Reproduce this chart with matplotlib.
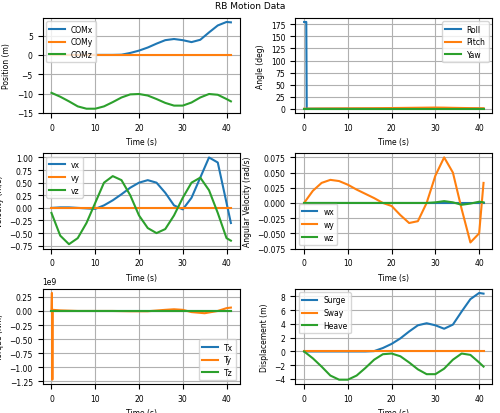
import matplotlib
matplotlib.use("Agg")
import matplotlib.pyplot as plt
import numpy as np

plt.rcParams.update({"font.size": 5.5})

t = [0, 2, 4, 6, 8, 10, 12, 14, 16, 18, 20, 22, 24, 26, 28, 30, 32, 34, 36, 38, 40, 41]
comx = [0, 0, 0, 0, 0, 0, 0, 0, 0.05, 0.5, 1.1, 1.9, 2.9, 3.8, 4.1, 3.8, 3.3, 3.9, 5.8, 7.6, 8.5, 8.4]
comy = [0] * len(t)
comz = [-9.8, -10.8, -12.0, -13.3, -13.9, -13.9, -13.3, -12.2, -11.0, -10.2, -10.1, -10.5, -11.4, -12.4, -13.1, -13.1, -12.3, -11.0, -10.1, -10.3, -11.4, -12.0]
pitch = [0, 0.2, 0.4, 0.5, 0.6, 0.7, 0.8, 0.9, 1.0, 1.2, 1.4, 1.6, 1.8, 2.0, 2.2, 2.4, 2.2, 1.8, 1.5, 1.2, 1.0, 0.9]
yaw = [0] * len(t)
t_roll = [0, 0.5, 0.6, 41]
roll = [180, 180, 0, 0]
vx = [0, 0.01, 0.01, 0.0, -0.01, -0.02, 0.05, 0.15, 0.27, 0.4, 0.5, 0.55, 0.5, 0.3, 0.05, -0.03, 0.2, 0.6, 1.0, 0.9, 0.1, -0.3]
vy = [0] * len(t)
vz = [-0.1, -0.55, -0.72, -0.6, -0.3, 0.1, 0.5, 0.63, 0.55, 0.25, -0.15, -0.4, -0.5, -0.42, -0.15, 0.2, 0.5, 0.6, 0.35, -0.1, -0.6, -0.65]
wx = [0] * len(t)
wy = [0, 0.02, 0.033, 0.038, 0.036, 0.03, 0.022, 0.015, 0.008, 0.0, -0.005, -0.02, -0.033, -0.03, 0.0, 0.045, 0.075, 0.05, -0.01, -0.065, -0.05, 0.033]
wz = [0, 0, 0, 0, 0, 0, 0, 0, 0, 0, 0, 0, 0, 0, 0, 0.001, 0.003, 0.001, -0.003, -0.001, 0.002, 0.001]
t_tq = [0, 0.1, 0.2, 0.3, 2, 6, 10, 14, 18, 22, 26, 28, 30, 32, 35, 38, 40, 41]
tx = [0] * len(t_tq)
ty = [0, 0.32e9, -1.22e9, 0.02e9, 0.01e9, 0, 0, 0, -0.005e9, -0.005e9, 0.02e9, 0.03e9, 0.02e9, -0.02e9, -0.04e9, 0.0, 0.05e9, 0.06e9]
tz = [0] * len(t_tq)
surge = comx
sway = comy
heave = [z - comz[0] for z in comz]

fig, axs = plt.subplots(3, 2, figsize=(5, 4.14), dpi=100)
fig.suptitle("RB Motion Data", fontsize=6.5, y=0.995)

def style(ax, ylab):
    ax.set_xlabel("Time (s)")
    ax.set_ylabel(ylab)
    ax.grid(True)

ax = axs[0, 0]
ax.plot(t, comx, label="COMx"); ax.plot(t, comy, label="COMy"); ax.plot(t, comz, label="COMz")
ax.legend(loc="upper left"); style(ax, "Position (m)")

ax = axs[0, 1]
ax.plot(t_roll, roll, label="Roll"); ax.plot(t, pitch, label="Pitch"); ax.plot(t, yaw, label="Yaw")
ax.legend(loc="upper right"); style(ax, "Angle (deg)")
ax.set_yticks(np.arange(0, 176, 25))

ax = axs[1, 0]
ax.plot(t, vx, label="vx"); ax.plot(t, vy, label="vy"); ax.plot(t, vz, label="vz")
ax.legend(loc="upper left"); style(ax, "Velocity (m/s)")
ax.set_yticks(np.arange(-0.75, 1.01, 0.25))

ax = axs[1, 1]
ax.plot(t, wx, label="wx"); ax.plot(t, wy, label="wy"); ax.plot(t, wz, label="wz")
ax.legend(loc="lower left"); style(ax, "Angular Velocity (rad/s)")
ax.set_yticks(np.arange(-0.075, 0.076, 0.025))

ax = axs[2, 0]
ax.plot(t_tq, tx, label="Tx"); ax.plot(t_tq, ty, label="Ty"); ax.plot(t_tq, tz, label="Tz")
ax.legend(loc="lower right"); style(ax, "Torque (Nm)")
ax.set_yticks(np.arange(-1.25e9, 0.26e9, 0.25e9))

ax = axs[2, 1]
ax.plot(t, surge, label="Surge"); ax.plot(t, sway, label="Sway"); ax.plot(t, heave, label="Heave")
ax.legend(loc="upper left"); style(ax, "Displacement (m)")
ax.set_yticks(np.arange(-4, 9, 2))

fig.subplots_adjust(left=0.085, right=0.985, top=0.955, bottom=0.07, hspace=0.42, wspace=0.28)
fig.savefig("out.png")
